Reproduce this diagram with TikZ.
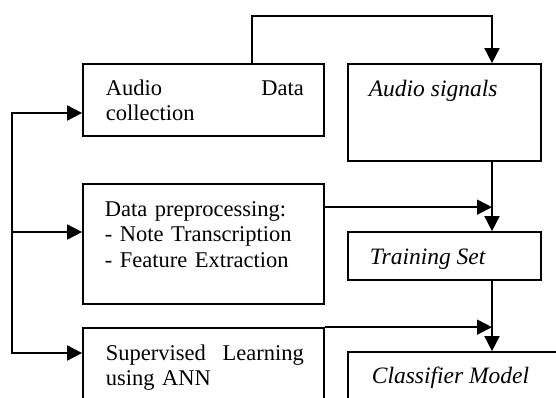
\documentclass[tikz,border=0pt]{standalone}
\usepackage{fontspec}
\setmainfont{Liberation Serif}
\usetikzlibrary{arrows.meta}

\begin{document}
\begin{tikzpicture}[x=1pt, y=-1pt,
  line width=1.7pt,
  box/.style={draw, rectangle, inner sep=0pt, line width=1.7pt},
  txt/.style={inner sep=0pt, anchor=base west,
    font=\fontsize{22.5}{25.5}\selectfont},
  itxt/.style={inner sep=0pt, anchor=base west,
    font=\fontsize{23.5}{26}\selectfont\itshape},
  tip/.tip={Triangle[length=15pt, width=15pt]},
  arr/.style={-tip, line join=miter},
]
\clip (0,0) rectangle (556,397);

% boxes
\node[box, minimum width=241pt, minimum height=72pt]  (adc) at (203.5,100) {};
\node[box, minimum width=193pt, minimum height=97pt]  (sig) at (444.5,112.5) {};
\node[box, minimum width=241pt, minimum height=120pt] (pre) at (203.5,244) {};
\node[box, minimum width=193pt, minimum height=48pt]  (ts)  at (444.5,256) {};
\node[box, minimum width=241pt, minimum height=100pt] (sup) at (203.5,378) {};
\node[box, minimum width=260pt, minimum height=100pt] (cls) at (478,402) {};

% box texts
\node[txt, text width=198pt, align=left] (adct) at (105,95) {Audio\hfill Data\\collection};
\node[itxt] (sigt) at (368,96) {Audio signals};
\node[txt, text width=200pt, align=left] (pret) at (104,216)
  {Data preprocessing:\\- Note Transcription\\- Feature Extraction};
\node[itxt] (tst) at (369,264) {Training Set};
\node[txt, text width=198pt, align=left] (supt) at (105,360) {Supervised\hfill Learning\\using ANN};
\node[itxt] (clst) at (371,383) {Classifier Model};

% routing points
\coordinate (tl) at (252,16);
\coordinate (tr) at (492,16);
\coordinate (l1) at (12,113);
\coordinate (l2) at (12,232);
\coordinate (l3) at (12,353);
\coordinate (p1) at ([yshift=-24pt]pre.north east);

% right-hand flow
\draw[arr] (tl |- adc.north) -- (tl) -- (tr) -- (tr |- sig.north);
\draw[arr] (tr |- sig.south) -- (tr |- ts.north);
\draw[arr] (tr |- ts.south) -- (tr |- cls.north);
\draw[arr] (p1) -- (p1 -| tr);
\draw[arr] (sup.north east) -- (sup.north east -| tr);

% left-hand feedback bus
\draw[tip-tip, line join=miter] (l1 -| adc.west) -- (l1) -- (l3) -- (l3 -| sup.west);
\draw[arr] (l2) -- (l2 -| pre.west);
\end{tikzpicture}
\end{document}
